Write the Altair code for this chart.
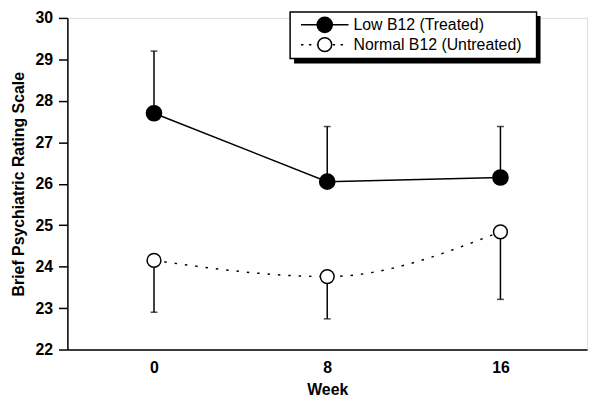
import altair as alt
import pandas as pd

weeks = [0, 8, 16]
low_mean = [27.7, 26.05, 26.15]
low_se = [1.5, 1.33, 1.23]
normal_mean = [24.15, 23.76, 24.84]
normal_se = [1.25, 1.02, 1.63]
series_names = ["Low B12 (Treated)", "Normal B12 (Untreated)"]

low = pd.DataFrame({"week": weeks, "mean": low_mean,
                    "lo": low_mean, "hi": [m + s for m, s in zip(low_mean, low_se)]})
normal = pd.DataFrame({"week": weeks, "mean": normal_mean,
                       "lo": [m - s for m, s in zip(normal_mean, normal_se)], "hi": normal_mean})

FONT = "Liberation Sans"
xs = alt.Scale(domain=[-4, 20], nice=False, zero=False)
ys = alt.Scale(domain=[22, 30], nice=False, zero=False)

X = alt.X("week:Q", scale=xs, title="Week",
          axis=alt.Axis(values=weeks, ticks=False, grid=False, labelPadding=10,
                        titlePadding=6, domainWidth=1.5, domainColor="black",
                        labelFont=FONT, labelFontSize=16, labelFontWeight="bold",
                        labelColor="black", titleFont=FONT, titleFontSize=16,
                        titleFontWeight="bold", titleColor="black"))
Y = alt.Y("mean:Q", scale=ys, title="Brief Psychiatric Rating Scale",
          axis=alt.Axis(values=list(range(22, 31)), tickSize=9, tickWidth=1.5,
                        tickColor="black", grid=False, labelPadding=6, titlePadding=9,
                        domainWidth=1.5, domainColor="black",
                        labelFont=FONT, labelFontSize=16, labelFontWeight="bold",
                        labelColor="black", titleFont=FONT, titleFontSize=16,
                        titleFontWeight="bold", titleColor="black"))

def errbars(df):
    return alt.Chart(df).mark_rule(color="black", strokeWidth=1.5).encode(
        x=alt.X("week:Q", scale=xs), y=alt.Y("lo:Q", scale=ys), y2="hi:Q")

low_cap = alt.Chart(low).mark_tick(orient="horizontal", color="black", size=7,
                                   thickness=1.5).encode(
    x=alt.X("week:Q", scale=xs), y=alt.Y("hi:Q", scale=ys))
normal_cap = alt.Chart(normal).mark_tick(orient="horizontal", color="black", size=7,
                                         thickness=1.5).encode(
    x=alt.X("week:Q", scale=xs), y=alt.Y("lo:Q", scale=ys))

low_line = alt.Chart(low).mark_line(color="black", strokeWidth=1.5).encode(x=X, y=Y)
normal_line = alt.Chart(normal).mark_line(color="black", strokeWidth=1.5,
                                          strokeDash=[2.5, 8],
                                          interpolate="monotone").encode(x=X, y=Y)
low_pts = alt.Chart(low).mark_point(shape="circle", filled=True, fill="black",
                                    stroke="black", size=220, opacity=1).encode(x=X, y=Y)
normal_pts = alt.Chart(normal).mark_point(shape="circle", filled=True, fill="white",
                                          stroke="black", strokeWidth=1.5, size=195,
                                          opacity=1).encode(x=X, y=Y)

# legend (drawn manually)
one = pd.DataFrame({"a": [0]})
lg = alt.Chart(one)
shadow = lg.mark_rect(fill="black").encode(
    x=alt.value(229), x2=alt.value(478), y=alt.value(-2), y2=alt.value(46))
box = lg.mark_rect(fill="white", stroke="black", strokeWidth=1.5).encode(
    x=alt.value(225), x2=alt.value(474), y=alt.value(-6), y2=alt.value(41))
l1 = lg.mark_rule(color="black", strokeWidth=1.5).encode(
    x=alt.value(236), x2=alt.value(284), y=alt.value(7))
l2 = lg.mark_rule(color="black", strokeWidth=1.5, strokeDash=[2.5, 5.5]).encode(
    x=alt.value(236), x2=alt.value(284), y=alt.value(27))
p1 = lg.mark_point(shape="circle", filled=True, fill="black", stroke="black",
                   size=220, opacity=1).encode(x=alt.value(260), y=alt.value(7))
p2 = lg.mark_point(shape="circle", filled=True, fill="white", stroke="black",
                   strokeWidth=1.5, size=195, opacity=1).encode(x=alt.value(260), y=alt.value(27))
t1 = lg.mark_text(align="left", baseline="middle", font=FONT, fontSize=16,
                  color="black").encode(x=alt.value(289), y=alt.value(7),
                                        text=alt.value(series_names[0]))
t2 = lg.mark_text(align="left", baseline="middle", font=FONT, fontSize=16,
                  color="black").encode(x=alt.value(289), y=alt.value(27),
                                        text=alt.value(series_names[1]))

chart = alt.layer(
    errbars(low), errbars(normal), low_cap, normal_cap,
    low_line, normal_line, low_pts, normal_pts,
    shadow, box, l1, l2, p1, p2, t1, t2
).properties(
    width=525, height=335,
    autosize=alt.AutoSizeParams(type="none"),
    padding={"left": 60, "top": 8, "right": 5, "bottom": 53},
).configure_view(stroke=None).configure(background="white")

chart.save("out.html", embed_options={"renderer": "svg", "actions": False})
